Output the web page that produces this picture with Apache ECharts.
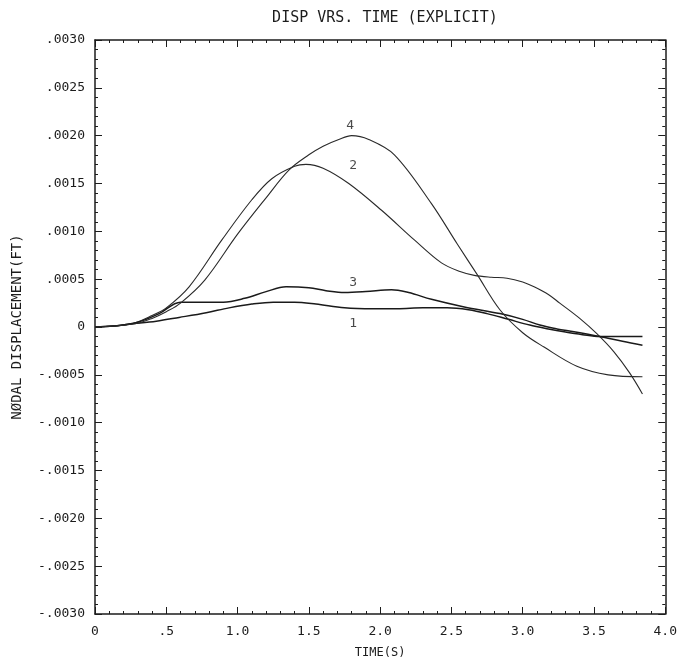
<!DOCTYPE html>
<html>
<head>
<meta charset="utf-8">
<script src="https://cdn.jsdelivr.net/npm/echarts@6/dist/echarts.min.js"></script>
<style>
  html, body { margin: 0; padding: 0; background: #fff; }
  #chart { width: 680px; height: 664px; }
</style>
</head>
<body>
<div id="chart"></div>
<script>
// Nodal displacement histories, explicit integration (time in s, displacement in ft)
const t1 = [0, 0.13, 0.24, 0.43, 0.59, 0.78, 0.94, 1.1, 1.25, 1.4, 1.55, 1.75, 1.95, 2.12, 2.3, 2.47, 2.62, 2.75, 2.9, 3.05, 3.18, 3.29, 3.42, 3.54, 3.68, 3.84];
const v1 = [0, 0.00001, 0.00003, 0.00006, 0.0001, 0.00015, 0.0002, 0.00024, 0.00026, 0.00026, 0.00024, 0.0002, 0.00019, 0.00019, 0.0002, 0.0002, 0.00018, 0.00014, 0.00008, 0.00002, -0.00002, -0.00005, -0.00008, -0.0001, -0.0001, -0.0001];

const t2 = [0, 0.13, 0.27, 0.4, 0.5, 0.66, 0.89, 1.1, 1.24, 1.4, 1.48, 1.6, 1.78, 2.01, 2.24, 2.43, 2.56, 2.66, 2.78, 2.89, 3.0, 3.08, 3.18, 3.26, 3.4, 3.52, 3.64, 3.75, 3.84];
const v2 = [0, 0.00001, 0.00004, 0.00012, 0.0002, 0.00042, 0.00091, 0.00133, 0.00155, 0.00168, 0.0017, 0.00166, 0.0015, 0.00122, 0.00091, 0.00067, 0.00058, 0.00054, 0.00052, 0.00051, 0.00047, 0.00042, 0.00034, 0.00025, 0.00009, -0.00007, -0.00026, -0.00048, -0.0007];

const t3 = [0, 0.13, 0.3, 0.45, 0.6, 0.75, 0.9, 1.05, 1.2, 1.34, 1.5, 1.62, 1.75, 1.9, 2.08, 2.2, 2.36, 2.59, 2.84, 3.0, 3.12, 3.24, 3.36, 3.54, 3.7, 3.84];
const v3 = [0, 0.00001, 0.00005, 0.00014, 0.00026, 0.00026, 0.00026, 0.0003, 0.00037, 0.00042, 0.00041, 0.00038, 0.00036, 0.00037, 0.00039, 0.00036, 0.00029, 0.00021, 0.00014, 0.00008, 0.00002, -0.00002, -0.00005, -0.0001, -0.00015, -0.00019];

const t4 = [0, 0.13, 0.3, 0.4, 0.5, 0.6, 0.77, 1.0, 1.2, 1.36, 1.5, 1.6, 1.71, 1.8, 1.92, 2.1, 2.36, 2.54, 2.68, 2.84, 3.0, 3.15, 3.38, 3.6, 3.84];
const v4 = [0, 0.00001, 0.00004, 0.00009, 0.00016, 0.00025, 0.00049, 0.00097, 0.00135, 0.00164, 0.0018, 0.00189, 0.00196, 0.002, 0.00196, 0.0018, 0.00129, 0.00087, 0.00055, 0.00018, -0.00006, -0.00021, -0.00041, -0.0005, -0.00052];

// Curve identifiers written next to the curves
const curveNames = ['1', '2', '3', '4'];
const nameTimes = [1.81, 1.81, 1.81, 1.79];
const nameValues = [0.00004, 0.00169, 0.00046, 0.0021];

// Axis tick labels
const xTickLabels = ['0', '.5', '1.0', '1.5', '2.0', '2.5', '3.0', '3.5', '4.0'];
const yTickLabels = ['-.0030', '-.0025', '-.0020', '-.0015', '-.0010', '-.0005', '0',
                     '.0005', '.0010', '.0015', '.0020', '.0025', '.0030'];

const X_MIN = 0, X_MAX = 4, X_STEP = 0.5;
const Y_MIN = -0.003, Y_MAX = 0.003, Y_STEP = 0.0005;

const FONT = '"DejaVu Sans Mono", monospace';
const INK = '#1c1c1c';

function pairs(ts, vs) { return ts.map((t, i) => [t, vs[i]]); }

function frameAxis(extra) {
  return Object.assign({
    axisLine: { show: true, onZero: false, lineStyle: { color: INK, width: 1.5 } },
    axisTick: { show: true, inside: true, length: 7, lineStyle: { color: INK, width: 1 } },
    minorTick: { show: true, splitNumber: 5, length: 3, lineStyle: { color: INK, width: 1 } },
    splitLine: { show: false },
    minorSplitLine: { show: false }
  }, extra);
}

const chart = echarts.init(document.getElementById('chart'), null, { renderer: 'canvas' });

const lineStyles = [
  { color: '#1a1a1a', width: 1.5 },
  { color: '#2a2a2a', width: 1.1 },
  { color: '#1a1a1a', width: 1.5 },
  { color: '#2a2a2a', width: 1.1 }
];
const curveData = [pairs(t1, v1), pairs(t2, v2), pairs(t3, v3), pairs(t4, v4)];

chart.setOption({
  backgroundColor: '#ffffff',
  animation: false,
  title: {
    text: 'DISP VRS. TIME (EXPLICIT)',
    left: 380, top: 6, textAlign: 'center',
    textStyle: { fontFamily: FONT, fontSize: 15, fontWeight: 'normal', color: INK }
  },
  grid: { left: 95, right: 11, top: 40, bottom: 50 },
  xAxis: [
    frameAxis({
      type: 'value', min: X_MIN, max: X_MAX, interval: X_STEP, position: 'bottom',
      name: 'TIME(S)', nameLocation: 'middle', nameGap: 33,
      nameTextStyle: { fontFamily: FONT, fontSize: 12, color: INK },
      axisLabel: {
        margin: 11, fontFamily: FONT, fontSize: 13, color: INK,
        formatter: v => xTickLabels[Math.round((v - X_MIN) / X_STEP)]
      }
    }),
    frameAxis({
      type: 'value', min: X_MIN, max: X_MAX, interval: X_STEP, position: 'top',
      axisLabel: { show: false }
    })
  ],
  yAxis: [
    frameAxis({
      type: 'value', min: Y_MIN, max: Y_MAX, interval: Y_STEP, position: 'left',
      name: 'NØDAL DISPLACEMENT(FT)', nameLocation: 'middle', nameGap: 71, nameRotate: 90,
      nameTextStyle: { fontFamily: FONT, fontSize: 14, color: INK },
      axisLabel: {
        margin: 10, fontFamily: FONT, fontSize: 13, color: INK,
        formatter: v => yTickLabels[Math.round((v - Y_MIN) / Y_STEP)]
      }
    }),
    frameAxis({
      type: 'value', min: Y_MIN, max: Y_MAX, interval: Y_STEP, position: 'right',
      axisLabel: { show: false }
    })
  ],
  series: curveData.map((d, i) => ({
    type: 'line',
    name: curveNames[i],
    data: d,
    smooth: 0.35,
    showSymbol: false,
    silent: true,
    lineStyle: lineStyles[i]
  })).concat([{
    type: 'scatter',
    silent: true,
    symbolSize: 1,
    itemStyle: { color: 'rgba(0,0,0,0)' },
    data: curveNames.map((n, i) => ({ value: [nameTimes[i], nameValues[i]], name: n })),
    label: {
      show: true, position: 'inside', formatter: p => p.name,
      fontFamily: FONT, fontSize: 13, color: INK
    }
  }])
});
</script>
</body>
</html>
